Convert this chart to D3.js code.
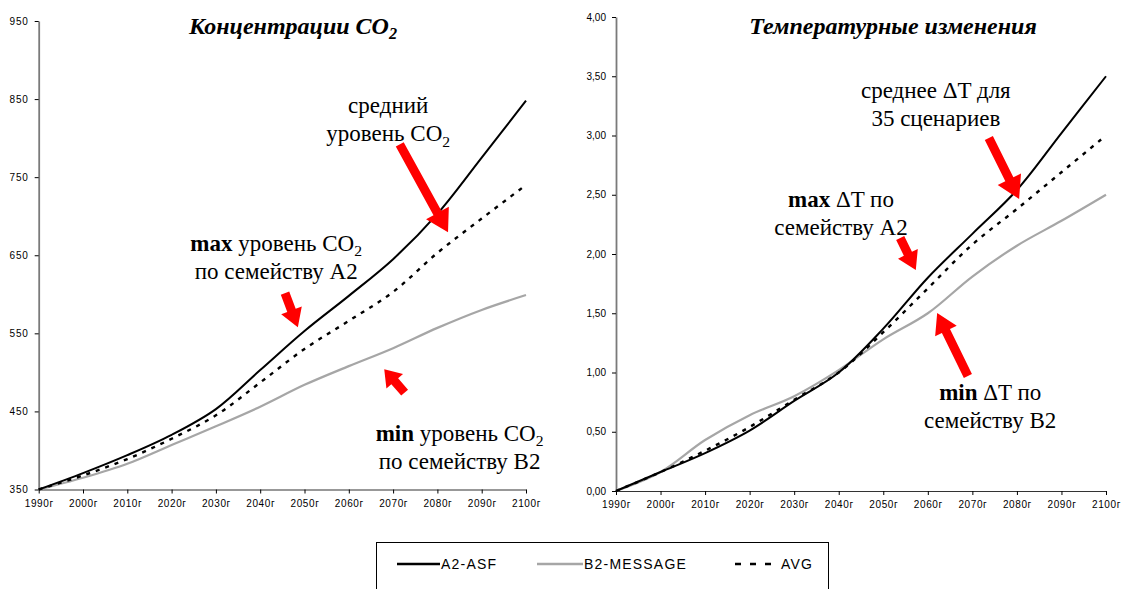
<!DOCTYPE html>
<html>
<head>
<meta charset="utf-8">
<script src="https://cdn.jsdelivr.net/npm/d3@7"></script>
<style>
  body { margin: 0; background: #fff; }
  svg { display: block; }
</style>
</head>
<body>
<div id="chart"></div>
<script>
// decades on the x axis
const years = [1990, 2000, 2010, 2020, 2030, 2040, 2050, 2060, 2070, 2080, 2090, 2100];

// CO2 concentration, ppm
const co2A2 = [350, 371, 394, 420, 453, 503, 553, 598, 645, 703, 775, 848];
const co2B2 = [350, 365, 383, 407, 431, 456, 484, 508, 531, 557, 580, 599];
const co2Avg = [350, 368, 389, 415, 445, 487, 530, 566, 603, 653, 697, 740];
const co2Ticks = [350, 450, 550, 650, 750, 850, 950];

// temperature change, deg C
const tA2 = [0, 0.16, 0.32, 0.51, 0.76, 1.0, 1.37, 1.8, 2.17, 2.54, 3.02, 3.5];
const tB2 = [0, 0.16, 0.43, 0.64, 0.8, 1.02, 1.28, 1.5, 1.81, 2.07, 2.28, 2.5];
const tAvg = [0, 0.16, 0.34, 0.54, 0.77, 1.0, 1.34, 1.71, 2.08, 2.38, 2.69, 3.0];
const tTicks = [0, 0.5, 1, 1.5, 2, 2.5, 3, 3.5, 4];

const seriesNames = ["A2-ASF", "B2-MESSAGE", "AVG"];

const width = 1122;
const height = 589;
const serif = "'Liberation Serif', 'Times New Roman', serif";
const sans = "'Liberation Sans', Arial, sans-serif";

const styles = [
  { stroke: "#000", width: 2, dash: null },
  { stroke: "#a6a6a6", width: 2.2, dash: null },
  { stroke: "#000", width: 2.4, dash: "4,6" }
];

const svg = d3
  .select("#chart")
  .append("svg")
  .attr("width", width)
  .attr("height", height);

// build a text line from parts: {t, bold, sub}
function addText(g, x, y, parts, opts) {
  const txt = g
    .append("text")
    .attr("x", x)
    .attr("y", y)
    .attr("text-anchor", opts.anchor || "middle")
    .style("font-family", serif)
    .style("font-size", opts.size + "px")
    .style("font-style", opts.italic ? "italic" : "normal")
    .style("font-weight", opts.bold ? "bold" : "normal");
  parts.forEach((p) => {
    const s = txt.append("tspan").text(p.t);
    if (p.bold) s.style("font-weight", "bold");
    if (p.sub) s.attr("dy", opts.size * 0.22).style("font-size", opts.size * 0.68 + "px");
  });
  return txt;
}

function arrowPath(x1, y1, x2, y2, sw, hw, hl) {
  const dx = x2 - x1, dy = y2 - y1;
  const L = Math.hypot(dx, dy);
  const ux = dx / L, uy = dy / L;
  const px = -uy, py = ux;
  const bx = x2 - ux * hl, by = y2 - uy * hl;
  const pts = [
    [x1 + px * sw / 2, y1 + py * sw / 2],
    [bx + px * sw / 2, by + py * sw / 2],
    [bx + px * hw / 2, by + py * hw / 2],
    [x2, y2],
    [bx - px * hw / 2, by - py * hw / 2],
    [bx - px * sw / 2, by - py * sw / 2],
    [x1 - px * sw / 2, y1 - py * sw / 2]
  ];
  return "M" + pts.map((p) => p.join(",")).join("L") + "Z";
}

function drawPanel(cfg) {
  const x = d3.scaleLinear().domain([1990, 2100]).range(cfg.xRange);
  const y = d3.scaleLinear().domain(cfg.yDomain).range(cfg.yRange);
  const g = svg.append("g");

  // y axis
  const yAxis = g
    .append("g")
    .attr("transform", `translate(${x(1990)},0)`)
    .call(
      d3.axisLeft(y)
        .tickValues(cfg.ticks)
        .tickFormat(cfg.fmt)
        .tickSize(4)
        .tickSizeOuter(0)
        .tickPadding(6)
    );
  yAxis.select(".domain").attr("stroke", "#7a7a7a").attr("stroke-width", 1.8);
  yAxis.selectAll(".tick line").attr("stroke", "#000");
  yAxis
    .selectAll(".tick text")
    .style("font-family", sans)
    .style("font-size", "10px")
    .style("letter-spacing", cfg.yLetter + "px")
    .attr("fill", "#000");

  // x axis
  const xAxis = g
    .append("g")
    .attr("transform", `translate(0,${y(cfg.yDomain[0])})`)
    .call(
      d3.axisBottom(x)
        .tickValues(years)
        .tickFormat((d) => d + "г")
        .tickSize(4)
        .tickSizeOuter(0)
        .tickPadding(6)
    );
  xAxis.select(".domain").attr("stroke", "#333").attr("stroke-width", 1.2);
  xAxis.selectAll(".tick line").attr("stroke", "#000");
  xAxis
    .selectAll(".tick text")
    .style("font-family", sans)
    .style("font-size", "10px")
    .style("letter-spacing", "0.6px")
    .attr("fill", "#000");

  // lines: B2 first, then A2, then avg on top
  const line = d3
    .line()
    .x((d, i) => x(years[i]))
    .y((d) => y(d))
    .curve(d3.curveCatmullRom.alpha(0.5));

  [1, 0, 2].forEach((k) => {
    g.append("path")
      .datum(cfg.series[k])
      .attr("d", line)
      .attr("fill", "none")
      .attr("stroke", styles[k].stroke)
      .attr("stroke-width", styles[k].width)
      .attr("stroke-dasharray", styles[k].dash);
  });

  // title
  addText(g, cfg.titleX, 34, cfg.title, { size: 24, bold: true, italic: true });

  // annotations
  cfg.notes.forEach((n) => {
    n.lines.forEach((parts, i) => {
      addText(g, x(n.year), y(n.value) + i * 28, parts, { size: 23 });
    });
  });

  // red arrows
  cfg.arrows.forEach((a) => {
    g.append("path")
      .attr("d", arrowPath(x(a.from[0]), y(a.from[1]), x(a.to[0]), y(a.to[1]), a.sw, a.hw, a.hl))
      .attr("fill", "#ff0000");
  });
}

drawPanel({
  xRange: [38.7, 526],
  yDomain: [350, 950],
  yRange: [489.5, 21],
  ticks: co2Ticks,
  fmt: d3.format("d"),
  yLetter: 0.8,
  series: [co2A2, co2B2, co2Avg],
  titleX: 293,
  title: [{ t: "Концентрации CO" }, { t: "2", sub: true }],
  notes: [
    { year: 2068.9, value: 831.6, lines: [[{ t: "средний" }], [{ t: "уровень CO" }, { t: "2", sub: true }]] },
    { year: 2043.6, value: 655, lines: [[{ t: "max", bold: true }, { t: " уровень CO" }, { t: "2", sub: true }], [{ t: "по семейству A2" }]] },
    { year: 2085.0, value: 412, lines: [[{ t: "min", bold: true }, { t: " уровень CO" }, { t: "2", sub: true }], [{ t: "по семейству B2" }]] }
  ],
  arrows: [
    { from: [2071.5, 792], to: [2082.4, 679.4], sw: 9, hw: 26, hl: 22 },
    { from: [2045.6, 601.4], to: [2048.5, 557.9], sw: 9, hw: 22, hl: 18 },
    { from: [2072.6, 474], to: [2068.0, 504.1], sw: 9, hw: 22, hl: 16 }
  ]
});

drawPanel({
  xRange: [616, 1106],
  yDomain: [0, 4],
  yRange: [491, 17],
  ticks: tTicks,
  fmt: (d) => d3.format(".2f")(d).replace(".", ","),
  yLetter: 0,
  series: [tA2, tB2, tAvg],
  titleX: 893,
  title: [{ t: "Температурные изменения" }],
  notes: [
    { year: 2061.8, value: 3.316, lines: [[{ t: "среднее ΔT для" }], [{ t: "35 сценариев" }]] },
    { year: 2040.5, value: 2.397, lines: [[{ t: "max", bold: true }, { t: " ΔT по" }], [{ t: "семейству A2" }]] },
    { year: 2074.0, value: 0.768, lines: [[{ t: "min", bold: true }, { t: " ΔT по" }], [{ t: "семейству B2" }]] }
  ],
  arrows: [
    { from: [2073.7, 2.979], to: [2080.5, 2.464], sw: 9, hw: 26, hl: 22 },
    { from: [2053.8, 2.135], to: [2057.3, 1.865], sw: 9, hw: 22, hl: 18 },
    { from: [2069.0, 0.97], to: [2062.1, 1.502], sw: 9, hw: 24, hl: 20 }
  ]
});

// legend
const legend = svg.append("g");
legend
  .append("rect")
  .attr("x", 376.5)
  .attr("y", 542.5)
  .attr("width", 452)
  .attr("height", 70)
  .attr("fill", "none")
  .attr("stroke", "#000")
  .attr("stroke-width", 1);

const legendStart = [397, 537, 735];
const legendLen = [43, 46, 45];
const legendDash = [null, null, "6,9"];

seriesNames.forEach((name, k) => {
  const x0 = legendStart[k];
  legend
    .append("line")
    .attr("x1", x0)
    .attr("x2", x0 + legendLen[k])
    .attr("y1", 564)
    .attr("y2", 564)
    .attr("stroke", styles[k].stroke)
    .attr("stroke-width", 2.4)
    .attr("stroke-dasharray", legendDash[k]);
  legend
    .append("text")
    .attr("x", x0 + legendLen[k] + 1)
    .attr("y", 569)
    .style("font-family", sans)
    .style("font-size", "14px")
    .style("letter-spacing", "1.2px")
    .text(name);
});
</script>
</body>
</html>
